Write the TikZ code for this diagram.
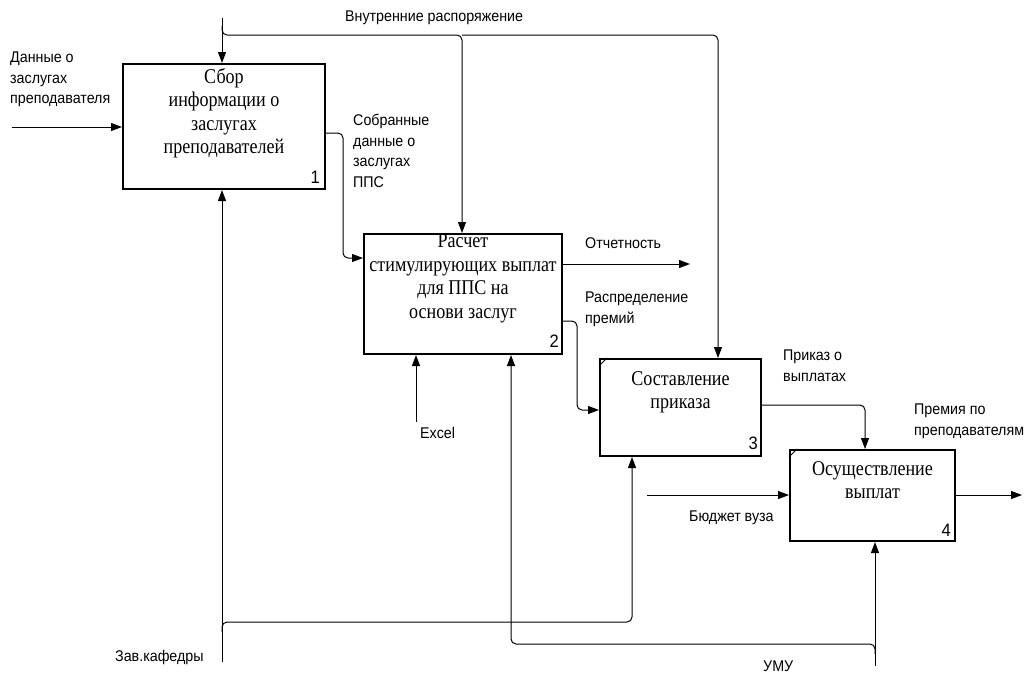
\documentclass[tikz,border=0pt]{standalone}
\usepackage{fontspec}
\setmainfont{Liberation Serif}[FakeStretch=0.86]
\setsansfont{Liberation Sans}[FakeStretch=0.92]
\usetikzlibrary{arrows.meta}
\begin{document}
\begin{tikzpicture}[x=1pt,y=-1pt,
  box/.style={draw, line width=2pt, anchor=north west, inner sep=0pt},
  btext/.style={font=\fontsize{21}{23.5}\selectfont, align=center, anchor=north, inner sep=0pt},
  lbl/.style={font=\sffamily\fontsize{15.5}{20.5}\selectfont, align=left, inner sep=0pt},
  num/.style={font=\sffamily\fontsize{18}{18}\selectfont, anchor=south east, inner sep=0pt},
  arr/.style={line width=1pt, -{Triangle[length=11pt,width=8pt]}},
  cornermark/.style={line width=1pt},
  rc/.style={rounded corners=5pt}]
\useasboundingbox (0,0) rectangle (1030,675);

% boxes
\node[box, minimum width=202pt, minimum height=125pt] (b1) at (122,63) {};
\node[box, minimum width=198pt, minimum height=120pt] (b2) at (363,233) {};
\node[box, minimum width=161pt, minimum height=97pt] (b3) at (599,358) {};
\node[box, minimum width=165pt, minimum height=91pt] (b4) at (789,449) {};

\node[btext] (t1) at ([yshift=-5pt]b1.north) {Сбор\\информации о\\заслугах\\преподавателей};
\node[btext] (t2) at ([yshift=-1pt]b2.north) {Расчет\\стимулирующих выплат\\для ППС на\\основи заслуг};
\node[btext] (t3) at ([yshift=-13pt]b3.north) {Составление\\приказа};
\node[btext] (t4) at ([yshift=-12pt]b4.north) {Осуществление\\выплат};

\node[num] (n1) at ([xshift=-6pt,yshift=6pt]b1.south east) {1};
\node[num] (n2) at ([xshift=-4pt,yshift=7pt]b2.south east) {2};
\node[num] (n3) at ([xshift=-4pt,yshift=7pt]b3.south east) {3};
\node[num] (n4) at ([xshift=-5pt,yshift=5pt]b4.south east) {4};

\draw[cornermark] ([yshift=-8pt]b3.north west) -- ([xshift=8pt]b3.north west);
\draw[cornermark] ([yshift=-8pt]b4.north west) -- ([xshift=8pt]b4.north west);

% labels
\node[lbl, anchor=north west] (l1) at (10,52) {Данные о\\заслугах\\преподавателя};
\node[lbl, anchor=west] (l2) at (345,18) {Внутренние распоряжение};
\node[lbl, anchor=north west] (l3) at (353,114) {Собранные\\данные о\\заслугах\\ППС};
\node[lbl, anchor=west] (l4) at (585,243) {Отчетность};
\node[lbl, anchor=north west] (l5) at (585,292) {Распределение\\премий};
\node[lbl, anchor=north west] (l6) at (783,350) {Приказ о\\выплатах};
\node[lbl, anchor=north west] (l7) at (914,404) {Премия по\\преподавателям};
\node[lbl, anchor=west] (l8) at (689,518) {Бюджет вуза};
\node[lbl, anchor=west] (l9) at (420,433) {Excel};
\node[lbl, anchor=west] (l10) at (115,657) {Зав.кафедры};
\node[lbl, anchor=west] (l11) at (763,666) {УМУ};

% inputs / controls
\coordinate (s1) at (12,127);
\draw[arr] (s1) -- (s1 -| b1.west);
\coordinate (c0) at (222,18);
\draw[arr] (c0) -- (c0 |- b1.north);
\coordinate (c2) at (462,35);
\coordinate (c3) at (718,35);
\draw[arr, rc] (222,26) |- (c2) -- (c2 |- b2.north);
\draw[arr, rc] (c2) -- (c3) -- (c3 |- b3.north);

% b1 -> b2
\coordinate (k1) at (343,133);
\coordinate (k2) at (343,258);
\draw[arr, rc] (b1.east |- k1) -- (k1) -- (k2) -- (b2.west |- k2);

% outputs of b2
\coordinate (o2) at (690,264);
\draw[arr] (b2.east |- o2) -- (o2);
\coordinate (k3) at (577,321);
\coordinate (k4) at (577,410);
\draw[arr, rc] (b2.east |- k3) -- (k3) -- (k4) -- (b3.west |- k4);

% b3 -> b4
\coordinate (k5) at (865,405);
\draw[arr, rc] (b3.east |- k5) -- (k5) -- (k5 |- b4.north);

% b4 output and input
\coordinate (o4) at (1022,495);
\draw[arr] (b4.east |- o4) -- (o4);
\coordinate (i4) at (647,495);
\draw[arr] (i4) -- (i4 -| b4.west);

% mechanisms
\coordinate (m1) at (222,662);
\draw[arr] (m1) -- (m1 |- b1.south);
\coordinate (m3) at (632,622);
\draw[arr, rc] (222,632) |- (m3) -- (m3 |- b3.south);
\coordinate (m2) at (416,422);
\draw[arr] (m2) -- (m2 |- b2.south);
\coordinate (m4) at (875,666);
\draw[arr] (m4) -- (m4 |- b4.south);
\coordinate (m5) at (511,644);
\draw[arr, rc] (875,654) |- (m5) -- (m5 |- b2.south);
\end{tikzpicture}
\end{document}
